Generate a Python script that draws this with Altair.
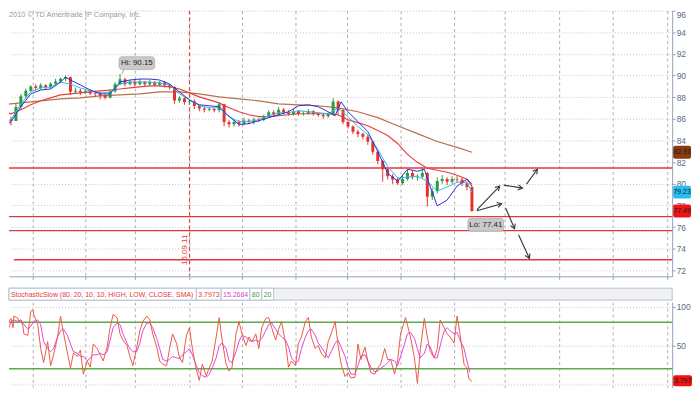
import math
import altair as alt
import pandas as pd

# ---------------- layout constants ----------------
W = 669
H_UP = 268
H_HEAD = 12
H_LO = 86
X_DOMAIN = [8, 677]
Y_UP_DOMAIN = [71.45, 96.0]
Y_LO_DOMAIN = [-4, 106]
FONT = "Liberation Sans"
AXIS_COL = "#8fa3bf"

# ---------------- data ----------------
candle_x = list(range(0, 480, 5))
candle_close = [85.60, 85.95, 85.80, 87.10, 88.10, 88.60, 89.00, 88.85, 89.10, 88.90,
                89.25, 89.45, 89.70, 89.85, 88.50, 88.60, 88.45, 88.55, 88.35, 88.30,
                88.15, 87.95, 88.55, 89.20, 89.65, 89.20, 89.45, 89.20, 89.45, 89.20,
                89.40, 89.15, 89.35, 89.10, 88.95, 87.70, 87.90, 87.55, 87.60, 87.20,
                86.95, 86.85, 86.90, 86.80, 87.35, 85.70, 85.50, 85.70, 85.55, 85.85,
                85.70, 85.95, 85.90, 86.25, 86.60, 86.40, 86.85, 86.60, 86.45, 86.70,
                86.45, 86.50, 86.70, 86.45, 86.35, 86.25, 86.45, 87.60, 86.80, 85.70,
                85.30, 84.80, 84.60, 84.35, 83.90, 82.95, 82.10, 81.35, 80.70, 80.40,
                80.05, 80.45, 81.00, 80.60, 80.65, 81.00, 78.80, 79.30, 80.25, 80.45,
                80.20, 80.45, 80.40, 80.05, 79.70, 77.49]
first_open = 85.40
candle_hi = [85.9, 86.1, 86.2, 87.4, 88.3, 88.8, 89.1, 89.2, 89.3, 89.2,
             89.4, 89.7, 89.8, 90.0, 89.9, 88.9, 88.8, 88.8, 88.7, 88.6,
             88.5, 88.3, 88.7, 89.4, 90.15, 89.8, 89.6, 89.6, 89.7, 89.5,
             89.6, 89.5, 89.5, 89.5, 89.2, 89.0, 88.1, 88.0, 87.8, 87.8,
             87.3, 87.1, 87.1, 87.0, 87.5, 87.4, 85.9, 85.9, 85.9, 86.1,
             86.0, 86.1, 86.1, 86.4, 86.8, 86.8, 87.1, 87.0, 86.8, 86.9,
             86.8, 86.7, 86.9, 86.8, 86.6, 86.5, 86.6, 87.9, 87.7, 86.9,
             85.8, 85.4, 85.0, 84.7, 84.5, 84.0, 83.1, 82.2, 81.5, 80.9,
             80.6, 80.8, 81.3, 81.2, 80.9, 81.4, 81.1, 79.6, 80.6, 80.8,
             80.6, 80.7, 80.7, 80.6, 80.2, 79.8]
candle_lo = [85.2, 85.5, 85.4, 85.8, 86.9, 87.9, 88.5, 88.6, 88.7, 88.7,
             88.8, 89.1, 89.3, 89.5, 88.2, 88.3, 88.2, 88.3, 88.2, 88.1,
             87.8, 87.8, 87.9, 88.4, 89.1, 89.0, 89.1, 89.0, 89.1, 89.0,
             89.0, 89.0, 89.0, 88.9, 88.7, 87.4, 87.5, 87.3, 87.3, 86.9,
             86.7, 86.6, 86.7, 86.6, 86.6, 85.3, 85.2, 85.3, 85.3, 85.4,
             85.5, 85.5, 85.7, 85.8, 86.2, 86.2, 86.3, 86.4, 86.3, 86.3,
             86.3, 86.3, 86.4, 86.3, 86.2, 86.0, 86.1, 86.3, 86.4, 85.5,
             85.1, 84.6, 84.3, 84.1, 83.6, 82.7, 81.8, 80.2, 80.4, 80.0,
             79.9, 79.9, 80.3, 80.4, 80.3, 80.5, 77.9, 78.5, 79.1, 80.0,
             79.9, 80.0, 80.1, 79.8, 79.4, 77.41]

brown_x = [0, 20, 40, 60, 80, 100, 120, 140, 160, 180, 200, 220, 240, 260, 280, 300, 320,
           340, 360, 380, 400, 420, 440, 460, 475]
brown_v = [87.30, 87.48, 87.67, 87.85, 87.94, 88.12, 88.21, 88.31, 88.49, 88.49, 88.31,
           88.03, 87.85, 87.67, 87.39, 87.30, 87.21, 87.02, 86.66, 86.11, 85.37, 84.64,
           83.91, 83.36, 82.91]

red_x = list(range(0, 480, 10)) + [475]
red_v = [86.75, 86.47, 86.84, 87.30, 87.67, 87.94, 88.21, 88.31, 88.40, 88.49,
         88.58, 88.67, 88.76, 88.86, 88.95, 89.04, 89.04, 88.95, 88.76, 88.40,
         88.03, 87.76, 87.48, 87.02, 86.66, 86.38, 86.20, 86.20, 86.29, 86.38,
         86.47, 86.47, 86.47, 86.47, 86.38, 85.92, 85.65, 85.37, 84.92, 84.46,
         83.73, 82.72, 81.98, 81.44, 81.25, 81.07, 80.79, 80.43, 79.97]

blue_x = [0, 10, 20, 30, 40, 50, 60, 65, 70, 80, 90, 100, 110, 120, 130, 140, 150, 160,
          170, 180, 190, 200, 210, 220, 227, 240, 250, 260, 270, 280, 290, 300, 310, 320,
          330, 337, 343, 350, 360, 370, 380, 390, 400, 410, 420, 427, 432, 440, 450, 460,
          470, 475]
blue_v = [85.10, 85.74, 87.12, 88.31, 88.67, 88.76, 89.40, 89.86, 89.59, 89.13,
          88.67, 88.31, 88.31, 89.40, 89.59, 89.68, 89.68, 89.59, 89.22, 88.49,
          87.76, 87.30, 87.21, 87.12, 86.47, 85.47, 85.56, 85.83, 86.11, 86.38,
          86.66, 87.21, 87.30, 87.12, 86.66, 86.29, 87.57, 86.66, 85.74, 84.82,
          82.99, 80.98, 80.24, 81.34, 81.16, 81.34, 79.97, 77.96, 78.50, 79.79,
          80.43, 79.79]

cyan_x = list(range(0, 480, 10)) + [475]
cyan_v = [85.37, 85.92, 87.39, 88.49, 88.86, 88.95, 89.40, 89.22, 88.86, 88.58,
          88.40, 88.49, 89.22, 89.40, 89.40, 89.40, 89.31, 89.13, 88.31, 87.76,
          87.21, 87.02, 87.02, 86.20, 85.74, 85.74, 85.92, 86.29, 86.57, 86.57,
          86.75, 86.66, 86.57, 86.47, 87.02, 86.20, 85.28, 84.55, 83.18, 81.62,
          80.52, 80.61, 80.70, 80.24, 79.33, 79.70, 80.15, 80.15, 79.23]

level_values = [81.46, 76.97, 75.67, 72.98]
level_start = [8, 8, 8, 13]
level_end = [677, 677, 677, 677]

tag_values = [82.91, 79.23, 77.49]
tag_texts = ["82.91", "79.23", "77.49"]
tag_fill = ["#8b3a12", "#27bff0", "#ee1414"]

hi_x, hi_v, hi_label_x, hi_label_v, hi_text = 122, 90.15, 137, 91.15, "Hi: 90.15"
lo_label_x, lo_label_v, lo_text = 489, 76.21, "Lo: 77.41"

arrow_x1 = [480, 480, 507, 530, 509, 522]
arrow_v1 = [77.59, 77.50, 79.88, 79.97, 77.77, 75.30]
arrow_x2 = [503, 505, 526, 541, 518, 533]
arrow_v2 = [79.79, 78.16, 79.60, 81.34, 75.85, 73.10]

date_x, date_label, date_label_v = 190, "15.09.11", 73.9
y_ticks_up = list(range(72, 97, 2))
vgrid = [32, 85, 135, 190, 243, 297, 349, 403, 457, 508, 563, 617, 672]
copyright_text = "2010 © TD Ameritrade IP Company, Inc."

k_x = [0, 3, 7, 10, 12, 13, 17, 18, 20, 22, 23, 27, 30, 32, 33, 37, 40, 43, 47, 50, 53, 57,
       60, 62, 65, 70, 73, 77, 80, 83, 87, 90, 93, 97, 100, 103, 107, 110, 113, 117, 120, 123,
       127, 130, 133, 137, 140, 143, 147, 150, 153, 157, 160, 163, 167, 170, 173, 177, 180, 183,
       187, 190, 193, 197, 200, 203, 207, 210, 213, 217, 220, 223, 227, 230, 233, 237, 240, 243,
       247, 250, 253, 257, 260, 263, 267, 270, 273, 277, 280, 283, 287, 290, 293, 297, 300, 303,
       307, 310, 313, 317, 320, 323, 327, 330, 333, 337, 340, 343, 347, 350, 353, 357, 360, 363,
       367, 370, 373, 377, 380, 383, 387, 390, 393, 397, 400, 403, 408, 413, 417, 420, 423, 427,
       430, 433, 437, 440, 443, 447, 450, 453, 457, 460, 463, 467, 470, 472, 475]
k_v = [19, 46, 79, 85, 73, 88, 85, 81, 83, 75, 65, 63, 94, 96, 90, 77, 46, 28, 55, 24, 38, 61,
       88, 73, 53, 21, 40, 36, 44, 13, 30, 22, 52, 46, 38, 30, 48, 73, 90, 86, 65, 57,
       50, 36, 24, 48, 69, 81, 88, 83, 65, 48, 30, 26, 24, 46, 65, 53, 34, 28, 63, 73,
       46, 19, 5, 26, 11, 21, 30, 61, 86, 57, 26, 17, 22, 65, 81, 65, 50, 61, 55, 65,
       46, 73, 85, 86, 73, 57, 71, 81, 53, 22, 30, 24, 53, 61, 81, 86, 61, 46, 50, 40,
       34, 55, 65, 81, 50, 26, 10, 15, 8, 9, 52, 32, 48, 30, 15, 13, 21, 26, 46, 32, 32,
       13, 30, 65, 86, 61, 34, 1, 46, 85, 61, 42, 34, 46, 83, 73, 65, 61, 53, 88, 65, 26,
       21, 7, 3.8]

d_x = [0, 3, 7, 10, 13, 17, 20, 23, 27, 30, 33, 37, 40, 43, 47, 50, 53, 57, 60, 63,
       67, 70, 73, 77, 80, 83, 87, 90, 93, 97, 100, 103, 107, 110, 113, 117, 120, 123, 127, 130,
       133, 137, 140, 143, 147, 150, 153, 157, 160, 163, 167, 170, 173, 177, 180, 183, 187, 190,
       193, 197, 200, 203, 207, 210, 213, 217, 220, 223, 227, 230, 233, 237, 240, 243, 247, 250,
       253, 257, 260, 263, 267, 270, 273, 277, 280, 283, 287, 290, 293, 297, 300, 303, 307, 310,
       313, 317, 320, 323, 327, 330, 333, 337, 340, 343,
       347, 350, 353, 357, 360, 363, 367, 370, 373, 377, 380, 383, 387, 390, 393, 397, 400, 403,
       407, 410, 413, 417, 420, 423, 427, 430, 433, 437, 440, 443, 447, 450, 453, 457, 460, 463,
       467, 470, 473]
d_v = [20, 42, 69, 81, 83, 81, 83, 77, 71, 75, 81, 83, 77, 55, 46, 42, 46, 61, 69, 71,
       63, 52, 42, 40, 36, 36, 30, 34, 38, 38, 40, 38, 42, 57, 73, 79, 77, 65, 53, 46,
       42, 42, 53, 69, 79, 79, 73, 59, 46, 32, 30, 32, 36, 34, 33, 38, 42, 46, 38, 24,
       15, 11, 9, 13, 21, 34, 50, 53, 46, 30, 28, 42, 55, 63, 61, 57, 55, 57, 55, 59,
       69, 77, 79, 71, 65, 61, 57, 48, 34, 28, 30, 46, 61, 69, 71, 63, 53, 48, 40, 34,
       42, 53, 57, 48,
       36, 22, 13, 13, 24, 36, 38, 30, 22, 16, 17, 21, 24, 28, 32, 30, 24, 36, 52, 65,
       67, 59, 46, 34, 40, 52, 48, 34, 34, 50, 69, 73, 69, 65, 67, 57, 46, 30, 15.27]

stoch_levels = [80, 20]
stoch_ticks = [0, 50, 100]
k_last_text = "3.797"
head_texts = ["StochasticSlow (80, 20, 10, 10, HIGH, LOW, CLOSE, SMA)", "3.7973", "15.2684", "80", "20"]
head_colors = ["#e8383a", "#e8383a", "#d63fd6", "#3f9a3f", "#3f9a3f"]
head_x0 = [0, 189, 214, 243, 255]
head_x1 = [189, 214, 243, 255, 267]

# ---------------- frames ----------------
opens = [first_open] + candle_close[:-1]
df_c = pd.DataFrame({"x": candle_x, "open": opens, "close": candle_close, "hi": candle_hi, "lo": candle_lo})
df_c["dir"] = ["up" if c >= o else "down" for o, c in zip(df_c["open"], df_c["close"])]

df_levels = pd.DataFrame({"x0": level_start, "x1": level_end, "v": level_values})
df_tags = pd.DataFrame({"v": tag_values, "t": tag_texts, "fill": tag_fill})
df_ann = pd.DataFrame({"x": [hi_label_x, lo_label_x], "v": [hi_label_v, lo_label_v], "t": [hi_text, lo_text]})
df_hi_line = pd.DataFrame({"x": [hi_x], "v": [hi_v], "x2": [hi_label_x - 13], "v2": [hi_label_v - 0.55]})

sx = W / (X_DOMAIN[1] - X_DOMAIN[0])
sy = H_UP / (Y_UP_DOMAIN[1] - Y_UP_DOMAIN[0])
df_arrows = pd.DataFrame({"x1": arrow_x1, "v1": arrow_v1, "x2": arrow_x2, "v2": arrow_v2})
df_arrows["angle"] = [
    math.degrees(math.atan2((b - a) * sx, (d - c) * sy)) % 360
    for a, b, c, d in zip(df_arrows.x1, df_arrows.x2, df_arrows.v1, df_arrows.v2)
]
df_date = pd.DataFrame({"x": [date_x], "v": [date_label_v], "t": [date_label]})

df_k = pd.DataFrame({"x": k_x, "v": k_v})
df_d = pd.DataFrame({"x": d_x, "v": d_v})
df_sl = pd.DataFrame({"v": stoch_levels})
df_ktag = pd.DataFrame({"v": [k_v[-1]], "t": [k_last_text]})

# ---------------- scales / axes ----------------
xs = alt.Scale(domain=X_DOMAIN, nice=False, zero=False)
ys_up = alt.Scale(domain=Y_UP_DOMAIN, nice=False, zero=False)
ys_lo = alt.Scale(domain=Y_LO_DOMAIN, nice=False, zero=False)

ax_x_up = alt.Axis(values=vgrid, labels=False, ticks=True, tickSize=3, tickColor=AXIS_COL,
                   domainColor=AXIS_COL, grid=True, gridColor="#b0b0b0", gridDash=[3, 3], title=None)
ax_y_up = alt.Axis(orient="right", values=y_ticks_up, tickSize=3, tickColor=AXIS_COL,
                   domainColor=AXIS_COL, labelFontSize=8.5, labelColor="#5b6b82", labelFont=FONT,
                   labelPadding=1, labelFlush=True, grid=True, gridColor="#c4c4c4", gridDash=[1, 2],
                   title=None)
ax_x_lo = alt.Axis(values=vgrid, labels=False, ticks=False, domain=False, grid=True,
                   gridColor="#b0b0b0", gridDash=[3, 3], title=None)
ax_y_lo = alt.Axis(orient="right", values=stoch_ticks, labelExpr="datum.value == 0 ? '' : datum.label",
                   tickSize=3, tickColor=AXIS_COL, domainColor=AXIS_COL, labelFontSize=8.5,
                   labelColor="#5b6b82", labelFont=FONT, labelPadding=1, grid=True,
                   gridColor="#c4c4c4", gridDash=[1, 2], title=None)


def XU(f):
    return alt.X(f, type="quantitative", scale=xs, axis=ax_x_up)


def YU(f):
    return alt.Y(f, type="quantitative", scale=ys_up, axis=ax_y_up)


def XL(f):
    return alt.X(f, type="quantitative", scale=xs, axis=ax_x_lo)


def YL(f):
    return alt.Y(f, type="quantitative", scale=ys_lo, axis=ax_y_lo)


candle_color = alt.Color("dir:N", scale=alt.Scale(domain=["up", "down"], range=["#2e9a3e", "#e2342c"]), legend=None)

# ---------------- upper panel ----------------
levels = alt.Chart(df_levels).mark_rule(color="#e3383b", strokeWidth=1.3).encode(
    x=XU("x0"), x2=alt.X2("x1"), y=YU("v"))
date_rule = alt.Chart(df_date).mark_rule(color="#e3383b", strokeDash=[4, 3], strokeWidth=1).encode(x=XU("x"))
date_text = alt.Chart(df_date).mark_text(angle=270, align="center", baseline="bottom", color="#e3383b",
                                         fontSize=8, font=FONT).encode(x=XU("x"), y=YU("v"), text="t:N")
wicks = alt.Chart(df_c).mark_rule(strokeWidth=1, clip=True).encode(
    x=XU("x"), y=YU("lo"), y2=alt.Y2("hi"), color=candle_color)
bodies = alt.Chart(df_c).mark_rule(strokeWidth=3, clip=True).encode(
    x=XU("x"), y=YU("open"), y2=alt.Y2("close"), color=candle_color)


def ma(xv, vv, col, w=1.1):
    return alt.Chart(pd.DataFrame({"x": xv, "v": vv})).mark_line(color=col, strokeWidth=w, clip=True).encode(
        x=XU("x"), y=YU("v"))


ma_brown = ma(brown_x, brown_v, "#b8704c", 1.2)
ma_red = ma(red_x, red_v, "#e8403c", 1.2)
ma_cyan = ma(cyan_x, cyan_v, "#35b9e6", 1.0)
ma_blue = ma(blue_x, blue_v, "#2d2fd6", 1.0)

hi_line = alt.Chart(df_hi_line).mark_rule(color="#888", strokeWidth=0.8).encode(
    x=XU("x"), y=YU("v"), x2=alt.X2("x2"), y2=alt.Y2("v2"))
ann_box = alt.Chart(df_ann).mark_rect(fill="#c9c9c9", stroke="#a0a0a0", strokeWidth=0.6, cornerRadius=3,
                                      xOffset=-18, x2Offset=18, yOffset=-6.5, y2Offset=6.5).encode(
    x=XU("x"), x2=alt.X2("x"), y=YU("v"), y2=alt.Y2("v"))
ann_text = alt.Chart(df_ann).mark_text(fontSize=8, font=FONT, color="#222").encode(x=XU("x"), y=YU("v"), text="t:N")

arrow_lines = alt.Chart(df_arrows).mark_rule(color="#333", strokeWidth=1.1).encode(
    x=XU("x1"), y=YU("v1"), x2=alt.X2("x2"), y2=alt.Y2("v2"))
arrow_heads = alt.Chart(df_arrows).mark_point(shape="M-0.55,0.95L0,0L0.55,0.95", filled=False, color="#333",
                                              strokeWidth=1.1, size=90, opacity=1).encode(
    x=XU("x2"), y=YU("v2"), angle=alt.Angle("angle:Q", scale=None))

tag_rect = alt.Chart(df_tags).mark_rect(cornerRadius=2, yOffset=-6.5, y2Offset=6.5).encode(
    x=alt.value(W + 1), x2=alt.value(W + 19), y=YU("v"), y2=alt.Y2("v"),
    color=alt.Color("fill:N", scale=None))
tag_text = alt.Chart(df_tags).mark_text(fontSize=7, font=FONT, color="#1a1a1a", align="center").encode(
    x=alt.value(W + 10), y=YU("v"), text="t:N")

copyright = alt.Chart(pd.DataFrame({"t": [copyright_text]})).mark_text(
    align="left", baseline="top", fontSize=7.5, font=FONT, color="#9a9a9a").encode(
    x=alt.value(0), y=alt.value(0), text="t:N")

upper = alt.layer(levels, date_rule, date_text, ma_brown, ma_red, wicks, bodies, ma_cyan, ma_blue,
                  hi_line, ann_box, ann_text, arrow_lines, arrow_heads, tag_rect, tag_text,
                  copyright).properties(width=W, height=H_UP)

# ---------------- stochastic header ----------------
hs = alt.Scale(domain=[0, W], nice=False, zero=False)
df_head = pd.DataFrame({"x0": head_x0, "x1": head_x1, "t": head_texts, "c": head_colors})
head_bg = alt.Chart(pd.DataFrame({"x0": [0], "x1": [W]})).mark_rect(
    fill="#f1f1f1", stroke="#b3c0d2", strokeWidth=1).encode(
    x=alt.X("x0:Q", scale=hs, axis=None), x2="x1:Q", y=alt.value(0), y2=alt.value(H_HEAD))
head_boxes = alt.Chart(df_head).mark_rect(fill="#ffffff", stroke="#b3c0d2", strokeWidth=1).encode(
    x=alt.X("x0:Q", scale=hs, axis=None), x2="x1:Q", y=alt.value(0), y2=alt.value(H_HEAD))
head_text = alt.Chart(df_head).mark_text(align="left", baseline="middle", fontSize=7, font=FONT, dx=2).encode(
    x=alt.X("x0:Q", scale=hs, axis=None), y=alt.value(H_HEAD / 2 + 0.5), text="t:N",
    color=alt.Color("c:N", scale=None))
header = alt.layer(head_bg, head_boxes, head_text).properties(width=W, height=H_HEAD)

# ---------------- stochastic panel ----------------
st_levels = alt.Chart(df_sl).mark_rule(color="#5fa850", strokeWidth=1.3).encode(y=YL("v"))
st_k = alt.Chart(df_k).mark_line(color="#ea5a44", strokeWidth=1, clip=True).encode(x=XL("x"), y=YL("v"))
st_d = alt.Chart(df_d).mark_line(color="#e244e0", strokeWidth=1, clip=True).encode(x=XL("x"), y=YL("v"))
st_tag = alt.Chart(df_ktag).mark_rect(cornerRadius=2, fill="#ee1414", yOffset=-6, y2Offset=5).encode(
    x=alt.value(W + 1), x2=alt.value(W + 20), y=YL("v"), y2=alt.Y2("v"))
st_tag_text = alt.Chart(df_ktag).mark_text(fontSize=7, font=FONT, color="#1a1a1a", dy=-0.5).encode(
    x=alt.value(W + 10.5), y=YL("v"), text="t:N")
lower = alt.layer(st_levels, st_d, st_k, st_tag, st_tag_text).properties(width=W, height=H_LO)

chart = alt.vconcat(upper, alt.vconcat(header, lower, spacing=1), spacing=7).properties(
    padding=0, background="white"
).configure_view(stroke=None)

chart.save("out.html", embed_options={"renderer": "svg", "actions": False})
